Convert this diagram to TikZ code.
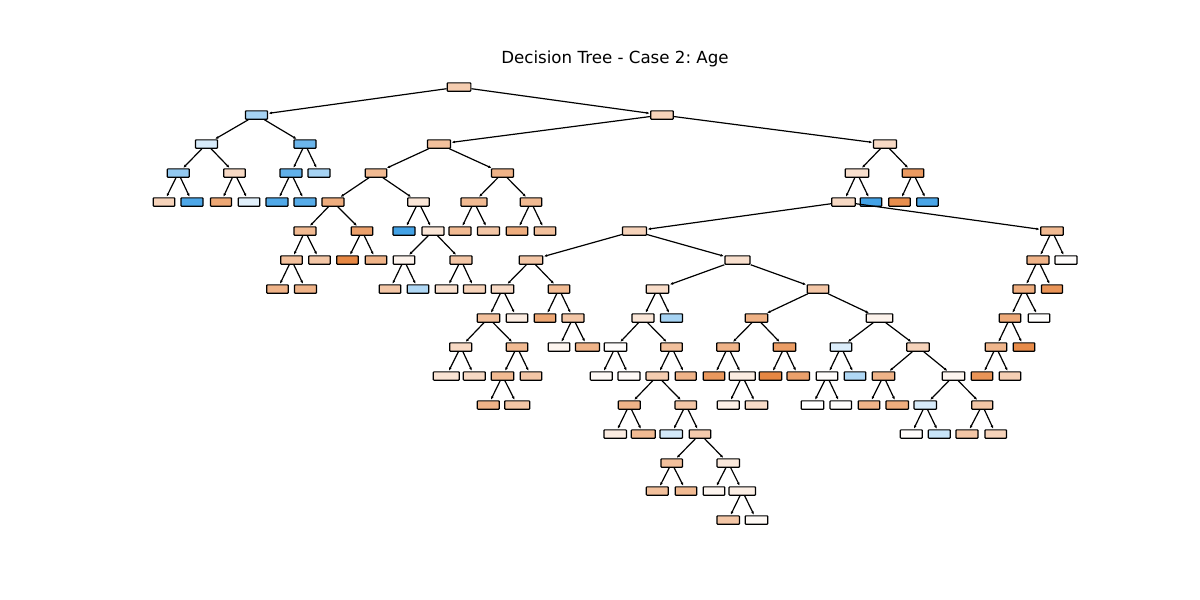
\documentclass[tikz,border=0pt]{standalone}
\usepackage{fontspec}
\setmainfont{DejaVu Sans}
\usetikzlibrary{arrows.meta}
\definecolor{co}{RGB}{229,129,57}
\definecolor{cb}{RGB}{57,157,229}
\tikzset{
  tn/.style={draw=black, line width=1.2pt, rounded corners=0.7pt, inner sep=0pt,
             minimum height=8.3pt, minimum width=21.5pt},
  edge/.style={line width=1.2pt, -{Latex[length=3.2pt,width=2.8pt]}, shorten >=0.6pt},
  ttl/.style={font=\fontsize{16.67}{20}\selectfont}
}
% \tn{name}{x}{y}{fill}{width}
\newcommand{\tn}[5]{\node[tn, fill=#4, minimum width=#5pt] (n#1) at (#2,#3) {};}
\begin{document}
\frenchspacing
\begin{tikzpicture}[x=1pt, y=-1pt]
\useasboundingbox (0,0) rectangle (1200,600);
\node[ttl] (title) at (615,59) {Decision Tree - Case 2: Age};
% level 0-4
\tn{1}{459}{87}{co!40!white}{23.7}
\tn{2}{256.5}{115}{cb!45!white}{22}
\tn{3}{662}{115}{co!35!white}{22.5}
\tn{4}{206.5}{144}{cb!20!white}{22}
\tn{5}{305}{144}{cb!75!white}{22}
\tn{6}{439}{144}{co!50!white}{23}
\tn{7}{885}{144}{co!30!white}{23}
\tn{8}{178.3}{173}{cb!55!white}{22}
\tn{9}{234.5}{173}{co!30!white}{21.5}
\tn{10}{291}{173}{cb!80!white}{22}
\tn{11}{319}{173}{cb!45!white}{22}
\tn{12}{376}{173}{co!55!white}{21.5}
\tn{13}{502.5}{173}{co!60!white}{22}
\tn{14}{857}{173}{co!25!white}{23.5}
\tn{15}{913}{173}{co!80!white}{21.5}
\tn{16}{164}{202}{co!35!white}{21.5}
\tn{17}{192}{202}{cb!90!white}{22}
\tn{18}{221}{202}{co!70!white}{21}
\tn{19}{249}{202}{cb!15!white}{21.5}
\tn{20}{277}{202}{cb!88!white}{22}
\tn{21}{305}{202}{cb!85!white}{22}
\tn{22}{333}{202}{co!65!white}{22}
\tn{23}{418.5}{202}{co!20!white}{21.5}
\tn{24}{474}{202}{co!55!white}{26}
\tn{25}{531}{202}{co!55!white}{21.5}
\tn{26}{843.5}{202}{co!30!white}{23.5}
\tn{27}{871}{202}{cb!95!white}{21.5}
\tn{28}{899.5}{202}{co!90!white}{21.5}
\tn{29}{927.5}{202}{cb!92!white}{21.5}
% level 5
\tn{30}{305}{231}{co!55!white}{22}
\tn{31}{362}{231}{co!75!white}{21.5}
\tn{32}{404}{231}{cb!95!white}{22}
\tn{33}{433}{231}{co!20!white}{22}
\tn{34}{460}{231}{co!55!white}{22}
\tn{35}{488.5}{231}{co!45!white}{22}
\tn{36}{517}{231}{co!65!white}{21.5}
\tn{37}{545}{231}{co!50!white}{21.5}
\tn{38}{634.5}{231}{co!35!white}{24}
\tn{39}{1052}{231}{co!55!white}{22.5}
% level 6
\tn{40}{291.5}{260}{co!50!white}{21.5}
\tn{41}{319.5}{260}{co!45!white}{21.5}
\tn{42}{347.5}{260}{co!95!white}{21.5}
\tn{43}{376}{260}{co!60!white}{21.5}
\tn{44}{404}{260}{co!10!white}{21.5}
\tn{45}{461}{260}{co!45!white}{22}
\tn{46}{531}{260}{co!45!white}{23.5}
\tn{47}{737.5}{260}{co!25!white}{25}
\tn{48}{1038}{260}{co!60!white}{22}
\tn{49}{1066}{260}{co!2!white}{22}
% level 7
\tn{50}{277.5}{289}{co!60!white}{21.5}
\tn{51}{305.5}{289}{co!60!white}{22}
\tn{52}{390}{289}{co!45!white}{21.5}
\tn{53}{418}{289}{cb!40!white}{21.5}
\tn{54}{446.5}{289}{co!25!white}{22.5}
\tn{55}{474.5}{289}{co!35!white}{22}
\tn{56}{502.5}{289}{co!30!white}{22.5}
\tn{57}{559}{289}{co!55!white}{21.5}
\tn{58}{657.5}{289}{co!28!white}{22.5}
\tn{59}{818}{289}{co!45!white}{21.5}
\tn{60}{1024}{289}{co!65!white}{22}
\tn{61}{1052}{289}{co!85!white}{21}
% level 8
\tn{62}{488.5}{318}{co!50!white}{22.5}
\tn{63}{517}{318}{co!15!white}{21.5}
\tn{64}{545}{318}{co!70!white}{21.5}
\tn{65}{573}{318}{co!45!white}{22}
\tn{66}{643}{318}{co!20!white}{22}
\tn{67}{671.5}{318}{cb!45!white}{22}
\tn{68}{756.5}{318}{co!62!white}{22.5}
\tn{69}{879.5}{318}{co!10!white}{26.5}
\tn{70}{1010}{318}{co!68!white}{21.5}
\tn{71}{1039}{318}{co!1!white}{21.5}
% level 9
\tn{72}{460.7}{347}{co!30!white}{22}
\tn{73}{517}{347}{co!55!white}{21.5}
\tn{74}{559}{347}{co!8!white}{21.5}
\tn{75}{587.5}{347}{co!60!white}{24}
\tn{76}{615.5}{347}{co!2!white}{22.5}
\tn{77}{671.5}{347}{co!50!white}{21.5}
\tn{78}{728}{347}{co!60!white}{22.5}
\tn{79}{784.5}{347}{co!78!white}{22.5}
\tn{80}{841}{347}{cb!18!white}{21.5}
\tn{81}{918}{347}{co!35!white}{22.5}
\tn{82}{996}{347}{co!58!white}{21.5}
\tn{83}{1024}{347}{co!92!white}{21.5}
% level 10
\tn{84}{446.3}{376}{co!22!white}{26}
\tn{85}{474.3}{376}{co!30!white}{22}
\tn{86}{502.5}{376}{co!55!white}{22.5}
\tn{87}{531}{376}{co!45!white}{21.5}
\tn{88}{601.3}{376}{co!5!white}{22}
\tn{89}{629}{376}{co!4!white}{22}
\tn{90}{657.3}{376}{co!40!white}{22.5}
\tn{91}{685.7}{376}{co!60!white}{21}
\tn{92}{714}{376}{co!82!white}{21.5}
\tn{93}{742.3}{376}{co!15!white}{26}
\tn{94}{770.5}{376}{co!95!white}{22.5}
\tn{95}{798.3}{376}{co!75!white}{22.5}
\tn{96}{827}{376}{co!2!white}{21.5}
\tn{97}{855}{376}{cb!40!white}{21.5}
\tn{98}{883.5}{376}{co!60!white}{22.5}
\tn{99}{953.5}{376}{co!8!white}{22.5}
\tn{100}{982}{376}{co!85!white}{21.5}
\tn{101}{1010}{376}{co!38!white}{21.5}
% level 11
\tn{102}{488.3}{405}{co!60!white}{22}
\tn{103}{517.2}{405}{co!45!white}{25}
\tn{104}{629.3}{405}{co!60!white}{22}
\tn{105}{685.8}{405}{co!45!white}{21.5}
\tn{106}{728.3}{405}{co!12!white}{22}
\tn{107}{756.5}{405}{co!28!white}{22.5}
\tn{108}{812.5}{405}{white}{22.5}
\tn{109}{840.8}{405}{co!2!white}{21.5}
\tn{110}{869}{405}{co!60!white}{21.5}
\tn{111}{897.2}{405}{co!65!white}{22.5}
\tn{112}{925.3}{405}{cb!20!white}{22.5}
\tn{113}{982.2}{405}{co!45!white}{21}
% level 12
\tn{114}{615.2}{434}{co!15!white}{22.5}
\tn{115}{643.3}{434}{co!55!white}{24}
\tn{116}{671.2}{434}{cb!22!white}{22.5}
\tn{117}{700}{434}{co!42!white}{21.5}
\tn{118}{911.3}{434}{co!2!white}{22}
\tn{119}{939.3}{434}{cb!28!white}{22}
\tn{120}{967}{434}{co!45!white}{22}
\tn{121}{995.7}{434}{co!35!white}{21.5}
% level 13-15
\tn{122}{671.7}{463}{co!50!white}{21.5}
\tn{123}{728.3}{463}{co!18!white}{22.5}
\tn{124}{657.3}{491}{co!50!white}{22}
\tn{125}{686}{491}{co!55!white}{21.5}
\tn{126}{714}{491}{co!8!white}{21.5}
\tn{127}{742.3}{491}{co!13!white}{26.5}
\tn{128}{728.2}{520}{co!45!white}{22.5}
\tn{129}{756.5}{520}{co!5!white}{22.5}
% parent -> child arrows
\foreach \p/\c in {1/2,1/3,2/4,2/5,3/6,3/7,4/8,4/9,5/10,5/11,6/12,6/13,7/14,7/15,
  8/16,8/17,9/18,9/19,10/20,10/21,12/22,12/23,13/24,13/25,14/26,14/27,15/28,15/29,
  22/30,22/31,23/32,23/33,24/34,24/35,25/36,25/37,26/38,26/39,
  30/40,30/41,31/42,31/43,33/44,33/45,38/46,38/47,39/48,39/49,
  40/50,40/51,44/52,44/53,45/54,45/55,46/56,46/57,47/58,47/59,48/60,48/61,
  56/62,56/63,57/64,57/65,58/66,58/67,59/68,59/69,60/70,60/71,
  62/72,62/73,65/74,65/75,66/76,66/77,68/78,68/79,69/80,69/81,70/82,70/83,
  72/84,72/85,73/86,73/87,76/88,76/89,77/90,77/91,78/92,78/93,79/94,79/95,
  80/96,80/97,81/98,81/99,82/100,82/101,
  86/102,86/103,90/104,90/105,93/106,93/107,96/108,96/109,98/110,98/111,99/112,99/113,
  104/114,104/115,105/116,105/117,112/118,112/119,113/120,113/121,
  117/122,117/123,122/124,122/125,123/126,123/127,127/128,127/129}
  \draw[edge] (n\p) -- (n\c);
\end{tikzpicture}
\end{document}
